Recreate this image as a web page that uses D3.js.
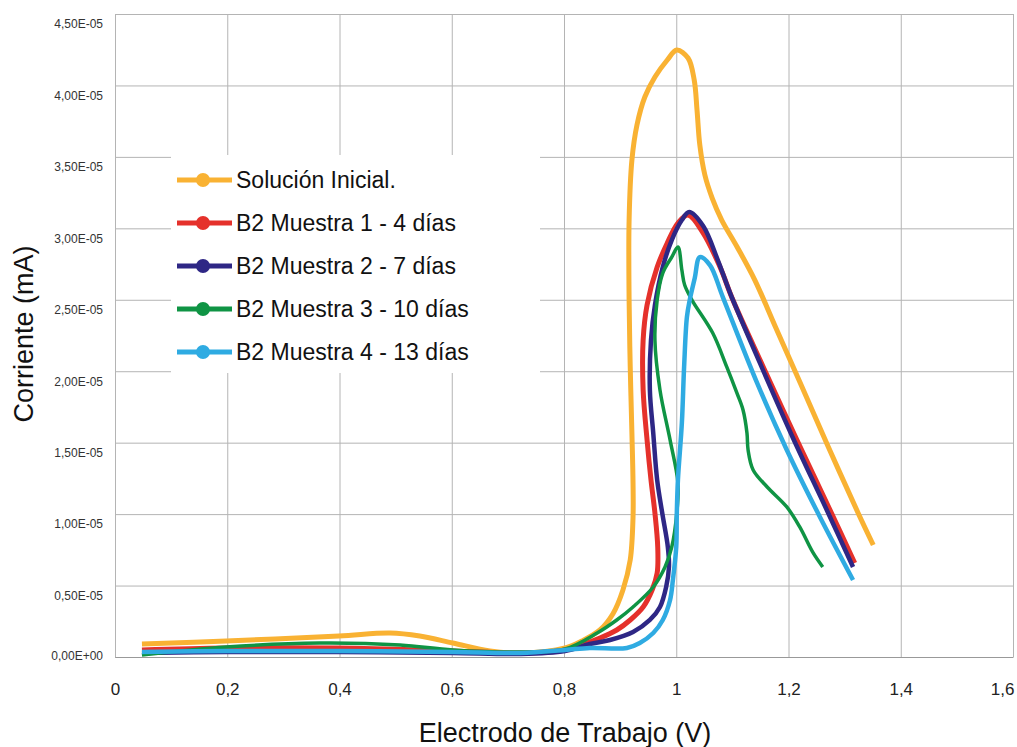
<!DOCTYPE html>
<html>
<head>
<meta charset="utf-8">
<script src="https://cdn.jsdelivr.net/npm/d3@7"></script>
<style>
  body { margin: 0; background: #fff; }
  svg { font-family: "Liberation Sans", Arial, sans-serif; }
</style>
</head>
<body>
<svg id="chart" width="1017" height="747"></svg>
<script>
// series names, as in the legend
var seriesNames = [
  "Solución Inicial.",
  "B2 Muestra 1 - 4 días",
  "B2 Muestra 2 - 7 días",
  "B2 Muestra 3 - 10 días",
  "B2 Muestra 4 - 13 días"
];
var seriesColors = ["#f9b233", "#e5312b", "#2e2785", "#0f9444", "#2fabe2"];

// points are [potential (V), current (x1E-05 mA)], in the order the curve is traced
var solucionInicial = [
  [0.048, 0.091], [0.198, 0.112], [0.399, 0.147], [0.490, 0.168], [0.543, 0.147],
  [0.602, 0.098], [0.668, 0.042], [0.722, 0.028], [0.802, 0.063], [0.832, 0.112],
  [0.864, 0.189], [0.887, 0.301], [0.905, 0.469], [0.918, 0.679], [0.923, 0.980],
  [0.923, 1.218], [0.921, 1.568], [0.918, 2.030], [0.916, 2.498], [0.916, 3.058],
  [0.921, 3.478], [0.930, 3.723], [0.944, 3.919], [0.962, 4.059], [0.984, 4.178],
  [1.001, 4.248], [1.021, 4.192], [1.032, 4.038], [1.037, 3.828], [1.042, 3.583],
  [1.051, 3.373], [1.064, 3.212], [1.081, 3.058], [1.108, 2.873], [1.140, 2.638],
  [1.176, 2.317], [1.221, 1.918], [1.271, 1.470], [1.324, 1.008], [1.351, 0.784]
];
var muestra1 = [
  [0.048, 0.049], [0.198, 0.063], [0.399, 0.063], [0.602, 0.042], [0.722, 0.028],
  [0.802, 0.049], [0.864, 0.133], [0.894, 0.189], [0.918, 0.259], [0.941, 0.350],
  [0.957, 0.469], [0.966, 0.588], [0.967, 0.770], [0.962, 1.008], [0.955, 1.239],
  [0.948, 1.519], [0.941, 1.869], [0.941, 2.218], [0.948, 2.463], [0.966, 2.729],
  [0.984, 2.897], [1.003, 3.037], [1.021, 3.093], [1.048, 2.967], [1.078, 2.729],
  [1.101, 2.498], [1.155, 2.030], [1.215, 1.519], [1.274, 1.029], [1.318, 0.658]
];
var muestra2 = [
  [0.048, 0.028], [0.198, 0.035], [0.399, 0.035], [0.602, 0.028], [0.722, 0.021],
  [0.802, 0.042], [0.846, 0.091], [0.882, 0.119], [0.923, 0.175], [0.953, 0.259],
  [0.971, 0.350], [0.982, 0.490], [0.987, 0.630], [0.985, 0.770], [0.975, 1.008],
  [0.966, 1.239], [0.959, 1.568], [0.953, 1.869], [0.955, 2.218], [0.962, 2.463],
  [0.976, 2.729], [0.992, 2.918], [1.010, 3.058], [1.023, 3.114], [1.048, 3.016],
  [1.074, 2.778], [1.096, 2.547], [1.149, 2.058], [1.208, 1.533], [1.269, 1.022],
  [1.315, 0.630]
];
var muestra3 = [
  [0.048, 0.014], [0.198, 0.070], [0.365, 0.098], [0.508, 0.084], [0.602, 0.049],
  [0.722, 0.035], [0.802, 0.056], [0.859, 0.168], [0.894, 0.259], [0.923, 0.350],
  [0.959, 0.490], [0.980, 0.630], [0.992, 0.770], [1.001, 1.008], [1.003, 1.218],
  [0.989, 1.519], [0.971, 1.869], [0.962, 2.218], [0.966, 2.498], [0.976, 2.687],
  [0.992, 2.799], [1.003, 2.869], [1.010, 2.708], [1.015, 2.603], [1.028, 2.498],
  [1.065, 2.267], [1.090, 2.030], [1.108, 1.848], [1.119, 1.729], [1.126, 1.568],
  [1.128, 1.449], [1.137, 1.309], [1.162, 1.190], [1.197, 1.050], [1.220, 0.910],
  [1.244, 0.728], [1.261, 0.630]
];
var muestra4 = [
  [0.048, 0.035], [0.198, 0.042], [0.399, 0.042], [0.602, 0.035], [0.722, 0.028],
  [0.802, 0.049], [0.846, 0.063], [0.912, 0.063], [0.935, 0.098], [0.959, 0.168],
  [0.976, 0.259], [0.989, 0.399], [0.994, 0.539], [1.000, 0.770], [1.001, 1.008],
  [1.003, 1.239], [1.010, 1.638], [1.014, 2.030], [1.019, 2.379], [1.024, 2.498],
  [1.033, 2.652], [1.042, 2.799], [1.060, 2.743], [1.083, 2.519], [1.144, 1.918],
  [1.197, 1.449], [1.256, 0.980], [1.315, 0.539]
];

var xTicks = [0, 0.2, 0.4, 0.6, 0.8, 1, 1.2, 1.4, 1.6];
var yTicks = [0, 0.5, 1, 1.5, 2, 2.5, 3, 3.5, 4, 4.5];

var allSeries = [solucionInicial, muestra1, muestra2, muestra3, muestra4];
var lineWidths = [5, 5, 4.5, 3.5, 4.5];

var svg = d3.select("#chart");
var plotLeft = 115, plotRight = 1013, plotTop = 14, plotBottom = 657;

var x = d3.scaleLinear().domain([0, 1.6]).range([plotLeft, plotRight]);
var y = d3.scaleLinear().domain([0, 4.5]).range([plotBottom, plotTop]);

// y axis + horizontal grid
var yAxis = svg.append("g")
  .attr("transform", "translate(" + plotLeft + ",0)")
  .call(d3.axisLeft(y).tickValues(yTicks).tickSizeInner(-(plotRight - plotLeft)).tickSizeOuter(0).tickPadding(12)
    .tickFormat(function(d) { return d === 0 ? "0,00E+00" : d.toFixed(2).replace(".", ",") + "E-05"; }));
yAxis.attr("font-family", null);
yAxis.select(".domain").attr("stroke", "#999");
yAxis.selectAll(".tick line").attr("stroke", "#b4b4b4");
yAxis.selectAll(".tick text")
  .attr("y", function(d) { return d === 0 ? -1 : 10; })
  .attr("font-size", 12).attr("fill", "#333");

// x axis + vertical grid
var xAxis = svg.append("g")
  .attr("transform", "translate(0," + plotBottom + ")")
  .call(d3.axisBottom(x).tickValues(xTicks).tickSizeInner(-(plotBottom - plotTop)).tickSizeOuter(0).tickPadding(26)
    .tickFormat(function(d) { return String(+d.toFixed(1)).replace(".", ","); }));
xAxis.attr("font-family", null);
xAxis.select(".domain").attr("stroke", "#999");
xAxis.selectAll(".tick line").attr("stroke", "#b4b4b4");
xAxis.selectAll(".tick text").attr("font-size", 17).attr("fill", "#222")
  .attr("text-anchor", function(d) { return d === 1.6 ? "end" : "middle"; })
  .attr("x", function(d) { return d === 1.6 ? 1 : 0; });

// axis titles
svg.append("text")
  .attr("x", 565).attr("y", 742)
  .attr("text-anchor", "middle").attr("font-size", 27).attr("fill", "#111")
  .text("Electrodo de Trabajo (V)");
svg.append("text")
  .attr("transform", "translate(33,334) rotate(-90)")
  .attr("text-anchor", "middle").attr("font-size", 27).attr("fill", "#111")
  .text("Corriente (mA)");

// legend background covers the grid
svg.append("rect")
  .attr("x", 171).attr("y", 155).attr("width", 369).attr("height", 218)
  .attr("fill", "#fff");

// curves
var line = d3.line()
  .x(function(d) { return x(d[0]); })
  .y(function(d) { return y(d[1]); })
  .curve(d3.curveCatmullRom.alpha(0.5));

svg.append("g").selectAll("path")
  .data(allSeries)
  .join("path")
  .attr("d", line)
  .attr("fill", "none")
  .attr("stroke", function(d, i) { return seriesColors[i]; })
  .attr("stroke-width", function(d, i) { return lineWidths[i]; })
  .attr("stroke-linejoin", "round");

// legend
var legend = svg.append("g").selectAll("g")
  .data(seriesNames)
  .join("g")
  .attr("transform", function(d, i) { return "translate(0," + (180 + i * 43) + ")"; });
legend.append("line")
  .attr("x1", 177).attr("x2", 232)
  .attr("stroke", function(d, i) { return seriesColors[i]; })
  .attr("stroke-width", 5);
legend.append("circle")
  .attr("cx", 203).attr("r", 7)
  .attr("fill", function(d, i) { return seriesColors[i]; });
legend.append("text")
  .attr("x", 236).attr("dy", "0.35em")
  .attr("font-size", 23).attr("fill", "#111")
  .text(function(d) { return d; });
</script>
</body>
</html>
